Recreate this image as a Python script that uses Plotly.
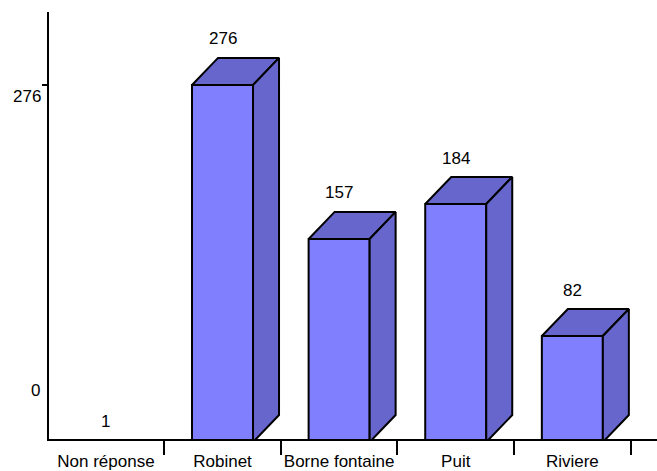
import plotly.graph_objects as go

# ---- data ----
categories = ["Non réponse", "Robinet", "Borne fontaine", "Puit", "Riviere"]
values = [1, 276, 157, 184, 82]
y_tick_labels = ["276", "0"]

# ---- styling / geometry (in axis units) ----
FRONT = "#8080FF"
SIDE = "#6666CC"
HALF_W = 0.2616      # half width of front face (category units)
DEPTH_X = 0.223      # depth offset along x (category units)
DEPTH_Y = 20.9       # depth offset along y (value units)
DEPTH_PX = 27        # same depth in pixels
Y_RANGE = [2.4, 332.4]
X_RANGE = [-0.488, 4.726]
MIN_DRAWN = 2        # bars shorter than this are hidden below the floor


def to_paper(v):
    return (v - Y_RANGE[0]) / (Y_RANGE[1] - Y_RANGE[0])


fig = go.Figure()


def poly(xs, ys, color):
    fig.add_trace(go.Scatter(
        x=xs + [xs[0]], y=ys + [ys[0]], mode="lines", fill="toself",
        fillcolor=color, line=dict(color="black", width=2),
        hoverinfo="skip", showlegend=False))


for i, v in enumerate(values):
    if v < MIN_DRAWN:
        continue
    l, r = i - HALF_W, i + HALF_W
    # front face
    poly([l, r, r, l], [0, 0, v, v], FRONT)
    # top face
    poly([l, r, r + DEPTH_X, l + DEPTH_X], [v, v, v + DEPTH_Y, v + DEPTH_Y], SIDE)
    # side face
    poly([r, r + DEPTH_X, r + DEPTH_X, r], [0, DEPTH_Y, v + DEPTH_Y, v], SIDE)

# invisible trace for boundary tick axis
fig.add_trace(go.Scatter(x=[0], y=[None], xaxis="x2", mode="markers",
                         showlegend=False, hoverinfo="skip"))

font = dict(family="Liberation Sans, Arial, sans-serif", size=17, color="black")

annotations = []
for i, v in enumerate(values):
    drawn = v >= MIN_DRAWN
    annotations.append(dict(
        x=i, y=to_paper(v), xref="x", yref="paper", text=str(v), showarrow=False,
        font=font, xanchor="center", yanchor="middle",
        yshift=19 + (DEPTH_PX if drawn else 0)))

# y-axis labels (placed as in the reference)
annotations.append(dict(x=0, y=to_paper(276), xref="paper", yref="paper",
                        text=y_tick_labels[0], showarrow=False, font=font,
                        xanchor="right", yanchor="middle", xshift=-6, yshift=-12))
annotations.append(dict(x=0, y=to_paper(0), xref="paper", yref="paper",
                        text=y_tick_labels[1], showarrow=False, font=font,
                        xanchor="right", yanchor="middle", xshift=-7, yshift=52))

fig.update_layout(
    template="none",
    width=657, height=471,
    margin=dict(l=49, r=0, t=12, b=32, autoexpand=False),
    paper_bgcolor="white", plot_bgcolor="white",
    font=font,
    showlegend=False,
    xaxis=dict(
        range=X_RANGE, tickmode="array", automargin=False,
        tickvals=list(range(len(categories))), ticktext=categories,
        ticks="outside", ticklen=6, tickcolor="rgba(0,0,0,0)",
        showgrid=False, zeroline=False,
        showline=True, linecolor="black", linewidth=2,
        tickfont=font, fixedrange=True),
    xaxis2=dict(
        range=X_RANGE, overlaying="x", anchor="y", side="bottom",
        automargin=False,
        tickmode="array", tickvals=[i + 0.5 for i in range(len(categories))],
        ticktext=[""] * len(categories),
        ticks="outside", ticklen=15, tickwidth=1.5, tickcolor="black",
        showgrid=False, zeroline=False, showline=False),
    yaxis=dict(
        range=Y_RANGE, tickmode="array", tickvals=[276], ticktext=[""],
        automargin=False,
        ticks="outside", ticklen=5, tickwidth=1.5, tickcolor="black",
        showgrid=False, zeroline=False,
        showline=True, linecolor="black", linewidth=2, fixedrange=True),
    annotations=annotations,
)

fig.write_html("out.html",
               config={"displayModeBar": False},
               post_script="document.body.style.margin='0';"
                           "document.body.style.overflow='hidden';")
